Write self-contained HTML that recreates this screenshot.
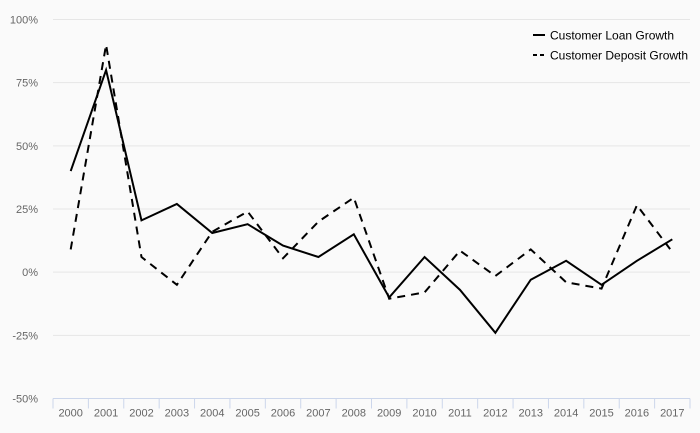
<!DOCTYPE html>
<html><head><meta charset="utf-8"><style>
body{margin:0;background:#fafafa;font-family:"Liberation Sans",sans-serif;}
svg{display:block}
</style></head><body>
<svg id="chart" width="700" height="433">
<rect width="700" height="433" fill="#fafafa"/>
<g id="grid"></g>
<g id="yt"></g>
<g id="xt"></g>
<g id="series"></g>
<g>
<g>
<line x1="533" y1="35" x2="545" y2="35" stroke="#000" stroke-width="2"/>
<text x="550" y="39.5" font-size="12" fill="#000">Customer Loan Growth</text></g>
<g>
<line x1="533" y1="55" x2="545" y2="55" stroke="#000" stroke-width="2" stroke-dasharray="4,3"/>
<text x="550" y="59.5" font-size="12" fill="#000">Customer Deposit Growth</text></g>
</g>
</svg>
<script>
const categories=["2000","2001","2002","2003","2004","2005","2006","2007","2008","2009","2010","2011","2012","2013","2014","2015","2016","2017"];
const loanGrowth=[40,80,20.5,27,15.5,19,10.5,6,15,-10,6,-7,-24,-3,4.5,-5,4.5,13];
const depositGrowth=[9,90,6,-5,16,24,5.5,20,29.5,-10.5,-8,8.5,-1.5,9,-4,-6.5,26.5,8];
const yTicks=[100,75,50,25,0,-25,-50];
const yTickLabels=["100%","75%","50%","25%","0%","-25%","-50%"];
const NS="http://www.w3.org/2000/svg";
const L=53,R=690,T=19.5,B=398.5;
const bw=(R-L)/categories.length;
function x(i){return L+bw*(i+0.5);}
function y(v){return B-(v+50)/150*(B-T);}
function mk(tag,attrs,parent){const e=document.createElementNS(NS,tag);for(const k in attrs)e.setAttribute(k,attrs[k]);parent.appendChild(e);return e;}
const grid=document.getElementById('grid'),yt=document.getElementById('yt'),xt=document.getElementById('xt'),ser=document.getElementById('series');
yTicks.forEach((v,i)=>{
 if(v>-50){const g=mk('line',{x1:L,x2:R,y1:y(v),y2:y(v),stroke:'#e6e6e6','stroke-width':1},grid);
 
 }
 const t=mk('text',{x:38,y:y(v)+4,'text-anchor':'end','font-size':11,fill:'#666'},yt);
 t.textContent=yTickLabels[i];
 
 
});
const ax=mk('line',{x1:L,x2:R,y1:B,y2:B,stroke:'#ccd6eb','stroke-width':1},xt);


for(let i=0;i<=categories.length;i++){
 const tk=mk('line',{x1:L+bw*i,x2:L+bw*i,y1:B,y2:B+10,stroke:'#ccd6eb','stroke-width':1},xt);
 
 
}
categories.forEach((c,i)=>{
 const t=mk('text',{x:x(i),y:B+18,'text-anchor':'middle','font-size':11,fill:'#666'},xt);
 t.textContent=c;
 
 
});
function pts(arr){return arr.map((v,i)=>x(i)+','+y(v)).join(' ');}
const p1=mk('polyline',{points:pts(loanGrowth),fill:'none',stroke:'#000','stroke-width':2,'stroke-linejoin':'miter'},ser);


const p2=mk('polyline',{points:pts(depositGrowth),fill:'none',stroke:'#000','stroke-width':2,'stroke-dasharray':'8,6'},ser);


</script>
</body></html>
